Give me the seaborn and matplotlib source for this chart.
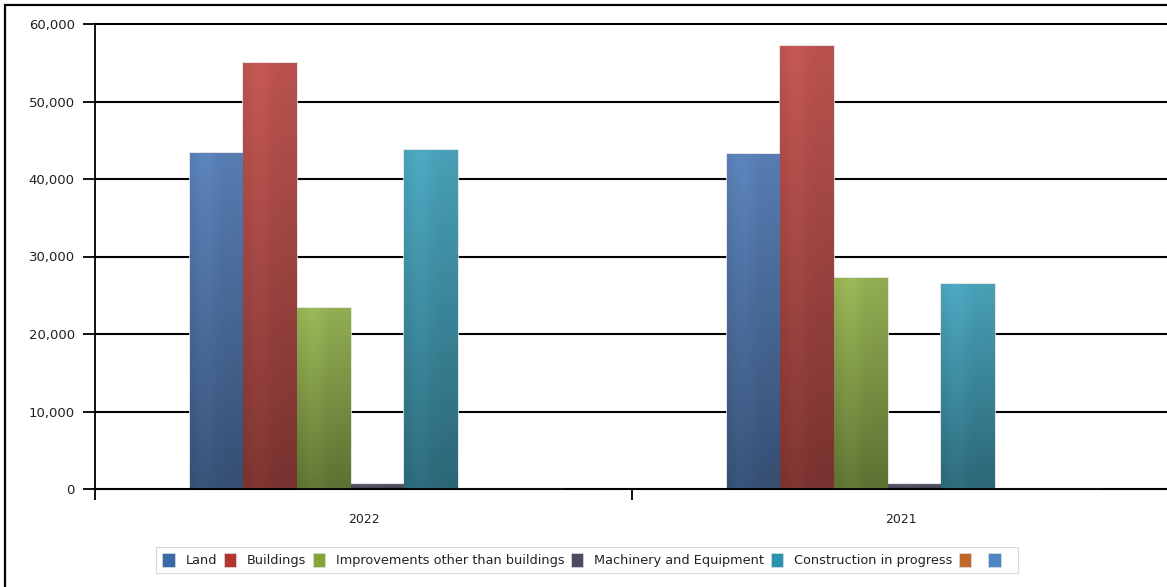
import numpy as np
import pandas as pd
import matplotlib
matplotlib.use("Agg")
import matplotlib.pyplot as plt
import matplotlib.colors as mcolors
from matplotlib.patches import Patch, Rectangle
from matplotlib.transforms import ScaledTranslation
import seaborn as sns

# ---- data ----
years = ["2022", "2021"]
series = ["Land", "Buildings", "Improvements other than buildings",
          "Machinery and Equipment", "Construction in progress",
          "Series 6", "Series 7"]
legend_labels = ["Land", "Buildings", "Improvements other than buildings",
                 "Machinery and Equipment", "Construction in progress", "", ""]
land = [43400, 43200]
buildings = [55000, 57200]
improvements = [23400, 27200]
machinery = [600, 600]
construction = [43800, 26500]
series6 = [0, 0]
series7 = [0, 0]
colors = ["#3a68a8", "#b23530", "#82a536", "#4a4c62", "#2a94b0", "#c0682a", "#4f86c6"]
yticks = [0, 10000, 20000, 30000, 40000, 50000, 60000]

all_vals = [land, buildings, improvements, machinery, construction, series6, series7]
df = pd.DataFrame({
    "Year": [y for s in series for y in years],
    "Series": [s for s in series for _ in years],
    "Value": [v for vals in all_vals for v in vals],
})

sns.set_theme(style="white")
plt.rcParams["font.family"] = ["DejaVu Sans"]

W, H = 1167, 587
fig = plt.figure(figsize=(W / 100, H / 100), dpi=100)
ax = fig.add_axes([95 / W, 98 / H, 1074 / W, 465 / H])

palette = dict(zip(series, colors))
sns.barplot(data=df, x="Year", y="Value", hue="Series", hue_order=series,
            order=years, palette=palette, width=0.7, gap=0,
            edgecolor="#dedede", linewidth=1.2, legend=False, ax=ax, zorder=3)

# gradient shading on bars
for bar in ax.patches:
    h = bar.get_height()
    if h <= 0:
        continue
    base = np.array(mcolors.to_rgb(bar.get_facecolor()))
    top = np.clip(base * 1.1 + 0.03, 0, 1)
    bot = base * 0.74
    t = np.linspace(0, 1, 128)[:, None]
    grad = (top[None, :] * (1 - t) + bot[None, :] * t)
    u = np.linspace(0, 1, 32)[None, :]
    hl = 1 + 0.07 * np.exp(-((u - 0.3) ** 2) / 0.05)
    img = np.clip(grad[:, None, :] * hl[..., None], 0, 1)
    x0 = bar.get_x()
    im = ax.imshow(img, extent=[x0, x0 + bar.get_width(), 0, h],
                   aspect="auto", origin="upper", zorder=3.5,
                   interpolation="bilinear")
    im.set_clip_path(bar)

# bars in the reference sit a little right of the category centre
d = 14 / 537
ax.set_xlim(-0.5 - d, 1.5 - d)
ax.set_ylim(0, 60000)
ax.set_yticks(yticks)
ax.set_yticklabels([f"{v:,}" for v in yticks])
ax.set_xlabel("")
ax.set_ylabel("")

ax.yaxis.grid(True, color="black", linewidth=1.5, zorder=0)
ax.set_axisbelow(True)
for gl in ax.get_ygridlines():
    gl.set_clip_on(False)
for s in ["top", "right"]:
    ax.spines[s].set_visible(False)
for s in ["left", "bottom"]:
    ax.spines[s].set_color("black")
    ax.spines[s].set_linewidth(1.3)
    ax.spines[s].set_zorder(5)

ax.tick_params(axis="y", which="major", direction="out", length=8.5, width=1.3,
               color="black", pad=6, labelsize=9.5, labelcolor="#222222", left=True)
ax.tick_params(axis="x", which="major", length=0, pad=17, labelsize=9,
               labelcolor="#222222")
ax.set_xticks([-0.5 - d, 0.5 - d, 1.5 - d], minor=True)
ax.tick_params(axis="x", which="minor", direction="out", length=8, width=1.3,
               color="black", bottom=True)
for lab in ax.get_xticklabels():
    lab.set_transform(lab.get_transform() + ScaledTranslation(-d * 537 / 100, 0, fig.dpi_scale_trans))

handles = [Patch(facecolor=c, edgecolor="#dddddd", linewidth=0.5) for c in colors]
leg = fig.legend(handles, legend_labels, loc="center", bbox_to_anchor=(587 / W, 1 - 560 / H),
                 ncol=7, fontsize=9.3, frameon=True, fancybox=False,
                 handlelength=0.95, handleheight=1.25, handletextpad=0.85,
                 columnspacing=0.5, borderpad=0.45, labelcolor="#222222")
leg.get_frame().set_edgecolor("#d0d0d0")
leg.get_frame().set_linewidth(0.8)

# outer frame
fig.patches.append(Rectangle((5 / W, -0.05), 1.2, 1 - 5 / H + 0.05, transform=fig.transFigure,
                             fill=False, edgecolor="black", linewidth=1.6))

fig.savefig("out.png", dpi=100)
